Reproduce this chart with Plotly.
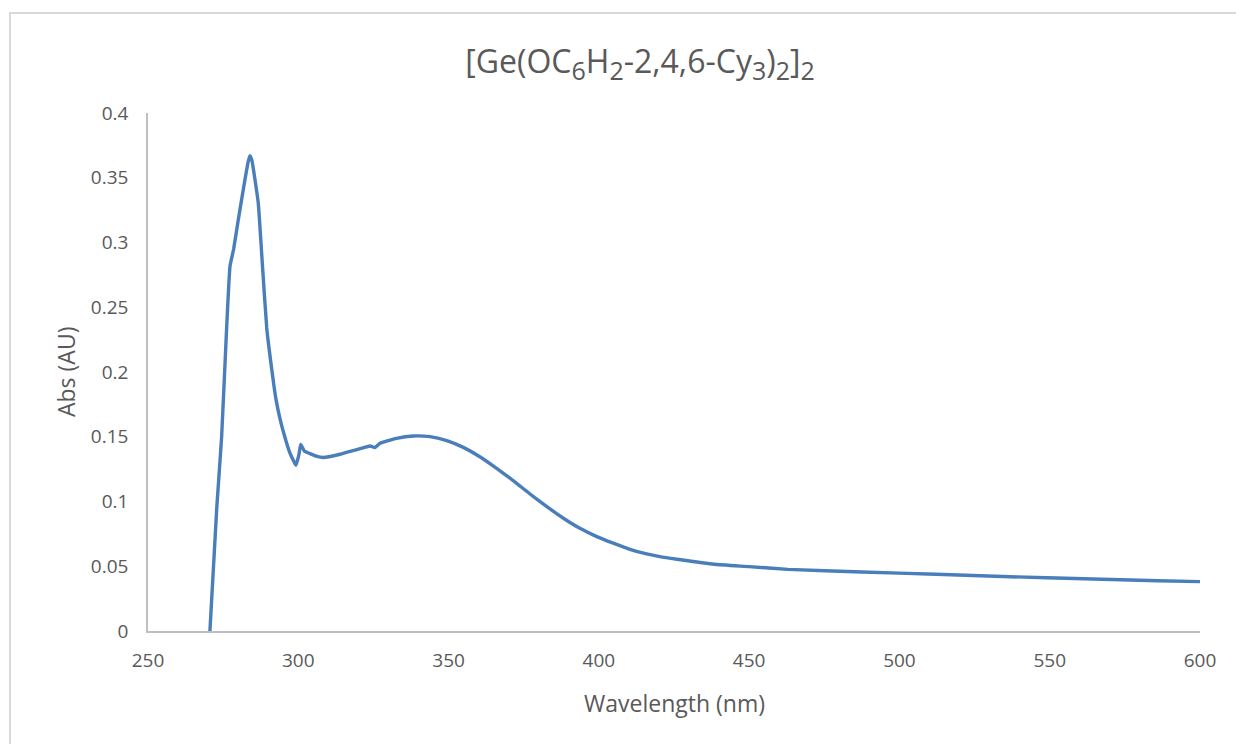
import plotly.graph_objects as go

# UV-vis absorption spectrum of [Ge(OC6H2-2,4,6-Cy3)2]2
wavelength_nm = [
    270.6, 272.9, 274.5, 276.2, 277.3, 278.5, 280.0, 282.0, 283.3, 283.9,
    284.6, 285.5, 286.7, 288.0, 289.5, 291.2, 292.5, 293.9, 295.5, 297.2,
    298.5, 299.2, 300.2, 300.8, 302.0, 303.9, 306.0, 308.3, 313.9, 319.4,
    323.9, 325.5, 327.2, 332.7, 338.3, 343.8, 349.4, 354.9, 360.4, 366.0,
    371.6, 377.1, 382.7, 388.2, 393.7, 399.3, 404.8, 410.3, 415.9, 420.3,
    426.0, 438.3, 450.0, 462.9, 487.5, 512.1, 536.8, 561.4, 586.0, 600.0,
]
absorbance = [
    0.000, 0.096, 0.150, 0.236, 0.282, 0.295, 0.317, 0.345, 0.362, 0.367,
    0.363, 0.350, 0.330, 0.285, 0.234, 0.2015, 0.180, 0.164, 0.150, 0.1375,
    0.131, 0.128, 0.136, 0.144, 0.139, 0.137, 0.135, 0.134, 0.1365, 0.140,
    0.1429, 0.1416, 0.1449, 0.1488, 0.1506, 0.1501, 0.147, 0.1418, 0.1346, 0.1256,
    0.116, 0.1058, 0.0960, 0.0871, 0.0793, 0.0729, 0.0678, 0.0631, 0.0595, 0.0574,
    0.0554, 0.0515, 0.0497, 0.0476, 0.0456, 0.0438, 0.0419, 0.0404, 0.0388, 0.0381,
]

x_ticks = [250, 300, 350, 400, 450, 500, 550, 600]
y_ticks = [0, 0.05, 0.1, 0.15, 0.2, 0.25, 0.3, 0.35, 0.4]
y_tick_text = ["0", "0.05", "0.1", "0.15", "0.2", "0.25", "0.3", "0.35", "0.4"]


def sub(s):
    return f"<sub><span style='font-size:25px'>{s}</span></sub>"


title_text = f"[Ge(OC{sub('6')}H{sub('2')}-2,4,6-Cy{sub('3')}){sub('2')}]{sub('2')}"
x_title = "Wavelength (nm)"
y_title = "Abs (AU)"

FONT = "Open Sans, DejaVu Sans, sans-serif"
TEXT_GREY = "#595959"
AXIS_GREY = "#bfbfbf"

W, H = 1236, 744
L, R, T, B = 148, 36, 113, 113
plot_w = W - L - R
plot_h = H - T - B


def px_to_paper_x(px):
    return (px - L) / plot_w


def px_to_paper_y(py):
    return (H - B - py) / plot_h


fig = go.Figure()
fig.add_trace(go.Scatter(
    x=wavelength_nm,
    y=absorbance,
    mode="lines",
    line=dict(color="#4a7ebb", width=3.4, shape="spline", smoothing=0.4),
    cliponaxis=True,
    showlegend=False,
))

fig.update_layout(
    width=W,
    height=H,
    margin=dict(l=L, r=R, t=T, b=B, pad=0),
    paper_bgcolor="white",
    plot_bgcolor="white",
    font=dict(family=FONT, color=TEXT_GREY),
    title=dict(
        text=title_text,
        font=dict(size=32, color=TEXT_GREY, family=FONT),
        x=px_to_paper_x(640),
        xref="paper",
        xanchor="center",
        y=1 - 62 / H,
        yref="container",
        yanchor="middle",
    ),
    xaxis=dict(
        range=[250, 600],
        tickvals=x_ticks,
        ticktext=[str(v) for v in x_ticks],
        showgrid=False,
        zeroline=False,
        showline=True,
        linecolor=AXIS_GREY,
        linewidth=1.5,
        ticks="",
        tickfont=dict(size=19, color=TEXT_GREY),
        ticklabelstandoff=11,
    ),
    yaxis=dict(
        range=[0, 0.4],
        tickvals=y_ticks,
        ticktext=y_tick_text,
        showgrid=False,
        zeroline=False,
        showline=True,
        linecolor=AXIS_GREY,
        linewidth=1.5,
        ticks="",
        tickfont=dict(size=19, color=TEXT_GREY),
        ticklabelstandoff=14,
    ),
    annotations=[
        dict(
            text=x_title,
            xref="paper", yref="paper",
            x=px_to_paper_x(674), y=px_to_paper_y(703),
            xanchor="center", yanchor="middle",
            showarrow=False,
            font=dict(size=23, color=TEXT_GREY, family=FONT),
        ),
        dict(
            text=y_title,
            xref="paper", yref="paper",
            x=px_to_paper_x(66), y=px_to_paper_y(372),
            xanchor="center", yanchor="middle",
            textangle=-90,
            showarrow=False,
            font=dict(size=23, color=TEXT_GREY, family=FONT),
        ),
    ],
    shapes=[
        # chart-area frame
        dict(
            type="rect",
            xref="paper", yref="paper",
            x0=px_to_paper_x(10), x1=px_to_paper_x(1260),
            y0=px_to_paper_y(770), y1=px_to_paper_y(13),
            line=dict(color="#d9d9d9", width=2),
            fillcolor="rgba(0,0,0,0)",
            layer="below",
        ),
    ],
)

fig.write_html("out.html")
